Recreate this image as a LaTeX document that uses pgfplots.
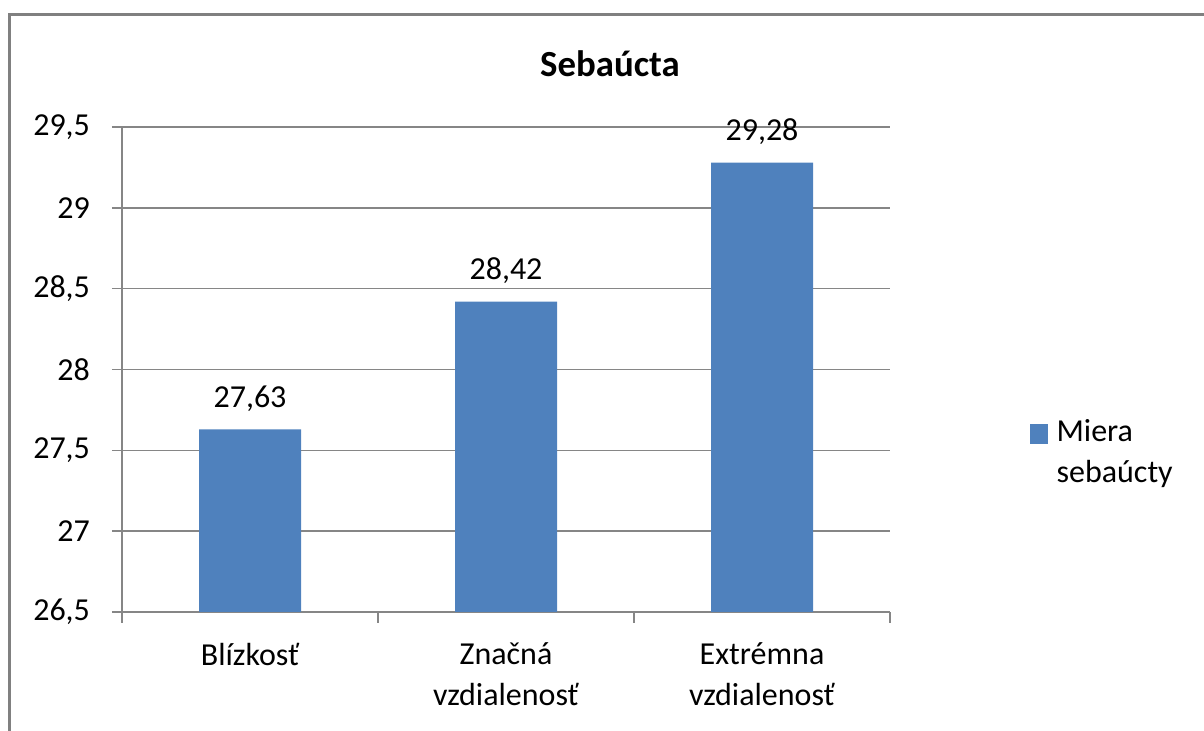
\documentclass[border=0pt]{standalone}
\usepackage{pgfplots}
\pgfplotsset{compat=1.18}
\usepackage{fontspec}
\setmainfont{Carlito}
\definecolor{barblue}{HTML}{4F81BD}
\definecolor{gridgray}{HTML}{868686}
\definecolor{framegray}{HTML}{808080}
\newcommand{\chartfont}{\fontsize{16}{20.5}\selectfont}

\begin{document}
\begin{tikzpicture}
\useasboundingbox (0pt,0pt) rectangle (602pt,365.5pt);
% chart frame (right and bottom edges cut off in the reference)
\draw[framegray, line width=1.3pt] (4.6pt,-20pt) rectangle (640pt,358.3pt);
\begin{axis}[
    at={(61pt,59.5pt)}, anchor=south west,
    scale only axis,
    width=384pt, height=242.5pt,
    xmin=-0.5, xmax=2.5,
    ymin=26.5, ymax=29.5,
    ybar, bar width=51pt,
    xtick={0,1,2},
    xticklabels={Blízkosť, Značná\\vzdialenosť, Extrémna\\vzdialenosť},
    minor xtick={-0.5,0.5,1.5,2.5},
    ytick={26.5,27,27.5,28,28.5,29,29.5},
    axis x line*=bottom, axis y line*=left,
    axis line style={gridgray, line width=0.75pt, -},
    ymajorgrids,
    grid style={gridgray, line width=0.75pt},
    tick align=outside,
    major tick length=5pt, minor tick length=5.5pt,
    major x tick style={draw=none},
    minor x tick style={gridgray, line width=0.75pt},
    ytick style={gridgray, line width=0.75pt},
    tick label style={font=\chartfont},
    xticklabel style={align=center, yshift=-7pt},
    yticklabel style={xshift=-7.5pt},
    /pgf/number format/assume math mode=true,
    /pgf/number format/use comma,
    yticklabel style={/pgf/number format/fixed},
    nodes near coords,
    nodes near coords style={font=\chartfont, yshift=5.5pt, /pgf/number format/fixed,
        /pgf/number format/precision=2, /pgf/number format/fixed zerofill,
        /pgf/number format/use comma, /pgf/number format/assume math mode=true},
    legend style={at={(axis description cs:1.182,0.328)}, anchor=west,
        draw=none, fill=none, inner sep=0pt, font=\chartfont,
        cells={align=left, anchor=west}},
]
\addplot[fill=barblue, draw=none,
    legend image code/.code={\fill[barblue] (0pt,4.5pt) rectangle (8.7pt,14.5pt);}]
    coordinates {(0,27.63) (1,28.42) (2,29.28)};
\addlegendentry{\hspace{2.5pt}Miera\\\hspace{2.5pt}sebaúcty}
\end{axis}
\node[anchor=base, font=\bfseries\fontsize{18.4}{22}\selectfont] at (305pt,327pt) {Sebaúcta};
\end{tikzpicture}
\end{document}
